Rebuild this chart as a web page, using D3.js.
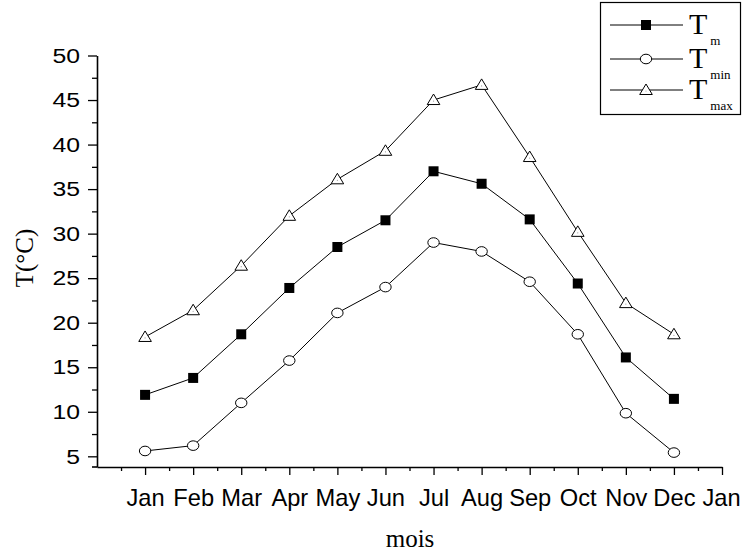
<!DOCTYPE html>
<html>
<head>
<meta charset="utf-8">
<script src="https://cdn.jsdelivr.net/npm/d3@7"></script>
<style>
  html, body { margin: 0; padding: 0; background: #fff; }
  svg { display: block; }
</style>
</head>
<body>
<svg id="chart" width="742" height="555"></svg>
<script>
// Monthly temperatures (°C)
const months = ["Jan", "Feb", "Mar", "Apr", "May", "Jun", "Jul", "Aug", "Sep", "Oct", "Nov", "Dec"];
const tickLabels = ["Jan", "Feb", "Mar", "Apr", "May", "Jun", "Jul", "Aug", "Sep", "Oct", "Nov", "Dec", "Jan"];
const tMean = [11.9, 13.8, 18.7, 23.9, 28.5, 31.5, 37.0, 35.6, 31.6, 24.4, 16.1, 11.45];
const tMin  = [5.6, 6.2, 11.0, 15.75, 21.1, 24.0, 29.0, 28.0, 24.6, 18.7, 9.84, 5.42];
const tMax  = [18.4, 21.4, 26.4, 32.0, 36.1, 39.3, 45.0, 46.7, 38.6, 30.2, 22.2, 18.7];
const yTicks = [5, 10, 15, 20, 25, 30, 35, 40, 45, 50];

const svg = d3.select("#chart");
const plot = { left: 97, right: 722, top: 55.5, bottom: 467 };

const x = d3.scaleLinear().domain([0, 13]).range([plot.left, plot.right]);
const y = d3.scaleLinear().domain([3.8, 50]).range([plot.bottom, plot.top]);

const sans = "'Liberation Sans', Arial, sans-serif";
const serif = "'Liberation Serif', 'Times New Roman', serif";
const stretchY = 1.18, stretchX = 1.03;

// Y axis: major ticks with labels, minor ticks halfway
const yAxis = svg.append("g").attr("transform", `translate(${plot.left},0)`)
  .call(d3.axisLeft(y).tickValues(yTicks).tickSize(9).tickPadding(8).tickSizeOuter(0));
svg.append("g").attr("transform", `translate(${plot.left},0)`)
  .call(d3.axisLeft(y).tickValues(yTicks.map(v => v + 2.5).filter(v => v < 50)).tickSize(5).tickFormat("").tickSizeOuter(0))
  .select(".domain").remove();

// X axis: month ticks, minor ticks halfway
const xAxis = svg.append("g").attr("transform", `translate(0,${plot.bottom})`)
  .call(d3.axisBottom(x).tickValues(d3.range(1, 14)).tickFormat((d, i) => tickLabels[i])
    .tickSize(8).tickPadding(15).tickSizeOuter(0));
svg.append("g").attr("transform", `translate(0,${plot.bottom})`)
  .call(d3.axisBottom(x).tickValues(d3.range(0.5, 13, 1)).tickSize(4).tickFormat("").tickSizeOuter(0))
  .select(".domain").remove();

// Extend the x axis line slightly left of the origin
svg.append("line").attr("x1", plot.left - 5).attr("x2", plot.left).attr("y1", plot.bottom).attr("y2", plot.bottom)
  .attr("stroke", "#000").attr("stroke-width", 1.6);

svg.selectAll(".domain").attr("stroke", "#000").attr("stroke-width", 1.6);
svg.selectAll(".tick line").attr("stroke", "#000").attr("stroke-width", 1.3);
yAxis.selectAll("text").attr("font-family", sans).attr("font-size", 21).attr("fill", "#000")
  .attr("x", -17 / stretchY).attr("transform", `scale(${stretchY},1)`);
xAxis.selectAll("text").attr("font-family", sans).attr("font-size", 23).attr("fill", "#000")
  .attr("transform", `scale(${stretchX},1)`);
// Keep the last label inside the frame
xAxis.selectAll(".tick").filter((d, i) => i === tickLabels.length - 1).select("text")
  .attr("x", -1);

// Axis titles
svg.append("text").attr("x", 410).attr("y", 547).attr("text-anchor", "middle").attr("fill", "#000")
  .attr("font-family", serif).attr("font-size", 25).text("mois");
svg.append("text").attr("transform", "translate(33,258) rotate(-90)").attr("text-anchor", "middle")
  .attr("fill", "#000").attr("font-family", serif).attr("font-size", 25).text("T(°C)");

// Series
const line = d3.line().x((d, i) => x(i + 1)).y(d => y(d));
const series = [
  { key: "m", values: tMean, symbol: "square" },
  { key: "min", values: tMin, symbol: "circle" },
  { key: "max", values: tMax, symbol: "triangle" }
];

function drawSymbol(g, type, cx, cy) {
  if (type === "square") {
    g.append("rect").attr("x", cx - 5).attr("y", cy - 5).attr("width", 10).attr("height", 10)
      .attr("fill", "#000");
  } else if (type === "circle") {
    g.append("ellipse").attr("cx", cx).attr("cy", cy).attr("rx", 5.7).attr("ry", 4.8)
      .attr("fill", "#fff").attr("stroke", "#000").attr("stroke-width", 1);
  } else {
    g.append("path").attr("d", `M${cx},${cy - 6}L${cx + 6.3},${cy + 4.5}L${cx - 6.3},${cy + 4.5}Z`)
      .attr("fill", "#fff").attr("stroke", "#000").attr("stroke-width", 1);
    g.append("circle").attr("cx", cx).attr("cy", cy + 1).attr("r", 0.6).attr("fill", "#999");
  }
}

series.forEach(s => {
  svg.append("path").datum(s.values).attr("d", line)
    .attr("fill", "none").attr("stroke", "#000").attr("stroke-width", 1);
  const g = svg.append("g");
  s.values.forEach((v, i) => drawSymbol(g, s.symbol, x(i + 1), y(v)));
});

// Legend
const legend = svg.append("g");
legend.append("rect").attr("x", 600.5).attr("y", 2.5).attr("width", 140).attr("height", 112)
  .attr("fill", "#fff").attr("stroke", "#000").attr("stroke-width", 1.2);
const rowsY = [25, 59, 90];
series.forEach((s, i) => {
  const ly = rowsY[i];
  legend.append("line").attr("x1", 610).attr("x2", 683).attr("y1", ly).attr("y2", ly)
    .attr("stroke", "#000").attr("stroke-width", 1);
  drawSymbol(legend, s.symbol, 646, ly);
  const t = legend.append("text").attr("x", 689).attr("y", ly + 9).attr("fill", "#000")
    .attr("font-family", serif).attr("font-size", 30);
  t.append("tspan").text("T");
  t.append("tspan").attr("dx", 3).attr("dy", 11).attr("font-size", 13).text(s.key);
});
</script>
</body>
</html>
